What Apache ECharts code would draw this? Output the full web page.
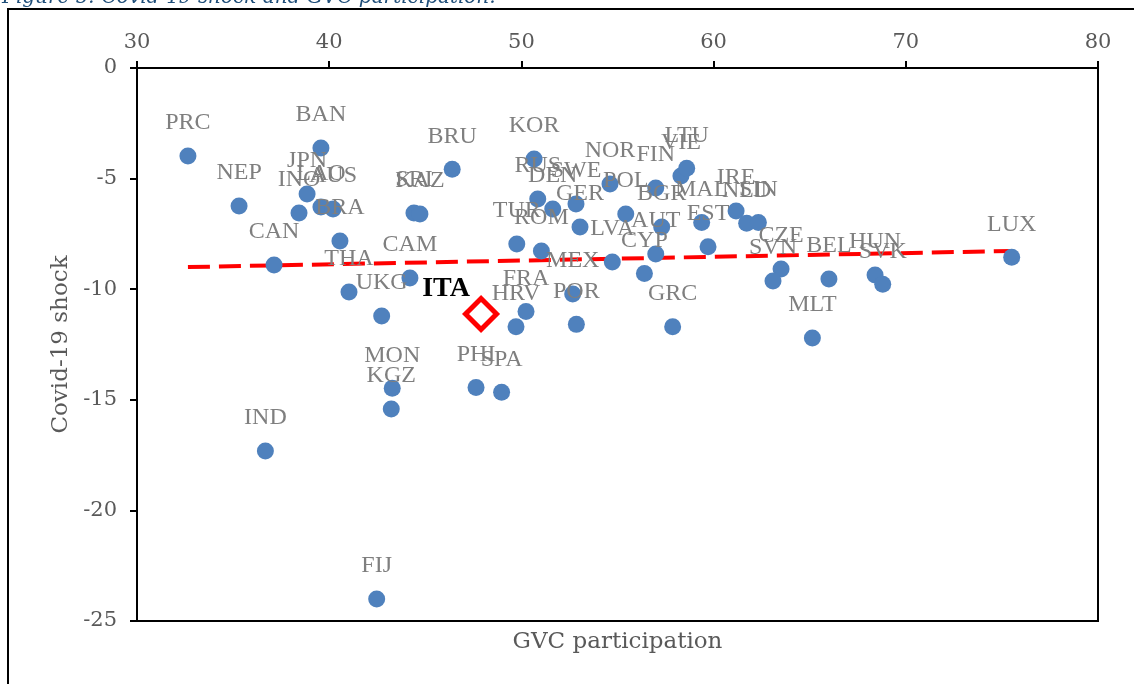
<!DOCTYPE html>
<html>
<head>
<meta charset="utf-8">
<script src="https://cdn.jsdelivr.net/npm/echarts@6/dist/echarts.min.js"></script>
<style>
  html, body { margin: 0; padding: 0; background: #fff; }
  #main { width: 1134px; height: 684px; }
</style>
</head>
<body>
<div id="main"></div>
<script>
// country codes, GVC participation (x) and Covid-19 shock (y)
const countries = ['PRC', 'NEP', 'BAN', 'JPN', 'INO', 'LAO', 'AUS', 'BRA', 'CAN', 'THA',
  'UKG', 'CAM', 'SRI', 'KAZ', 'BRU', 'KOR', 'RUS', 'DEN', 'SWE', 'GER',
  'NOR', 'POL', 'FIN', 'BGR', 'VIE', 'LTU', 'TUR', 'ROM', 'LVA', 'AUT',
  'CYP', 'MEX', 'FRA', 'HRV', 'POR', 'GRC', 'MAL', 'EST', 'IRE', 'NLD',
  'SIN', 'CZE', 'SVN', 'BEL', 'HUN', 'SVK', 'MLT', 'LUX', 'IND', 'FIJ',
  'MON', 'KGZ', 'PHI', 'SPA'];
const gvc = [32.65, 35.31, 39.57, 38.85, 38.43, 39.57, 40.20, 40.56, 37.13, 41.03,
  42.73, 44.20, 44.41, 44.72, 46.40, 50.66, 50.85, 51.63, 52.84, 53.05,
  54.61, 55.43, 56.99, 57.30, 58.30, 58.60, 49.76, 51.04, 54.73, 56.99,
  56.40, 52.67, 50.24, 49.72, 52.86, 57.87, 59.38, 59.71, 61.17, 61.72,
  62.33, 63.51, 63.09, 66.00, 68.40, 68.80, 65.14, 75.51, 36.68, 42.47,
  43.28, 43.23, 47.64, 48.97];
const shock = [-3.98, -6.24, -3.62, -5.70, -6.56, -6.28, -6.37, -7.82, -8.91, -10.13,
  -11.21, -9.49, -6.56, -6.60, -4.58, -4.11, -5.92, -6.37, -6.15, -7.19,
  -5.24, -6.60, -5.42, -7.19, -4.88, -4.53, -7.96, -8.27, -8.77, -8.41,
  -9.29, -10.22, -11.01, -11.70, -11.59, -11.70, -6.98, -8.08, -6.46, -7.02,
  -6.98, -9.09, -9.63, -9.54, -9.36, -9.78, -12.21, -8.56, -17.31, -24.01,
  -14.48, -15.42, -14.44, -14.66];

// Italy, highlighted
const itaName = 'ITA';
const itaGvc = 47.90;
const itaShock = -11.12;

// linear trend end points
const trendGvc = [32.65, 75.58];
const trendShock = [-9.00, -8.27];

const xMin = 30, xMax = 80, xStep = 10;
const yMin = -25, yMax = 0, yStep = 5;

let myChart = echarts.init(document.getElementById('main'));

let pointData = countries.map((c, i) => ({ name: c, value: [gvc[i], shock[i]] }));
let trendData = trendGvc.map((x, i) => [x, trendShock[i]]);

let axisFont = 'DejaVu Serif';

let option = {
  animation: false,
  graphic: [
    {
      type: 'rect',
      shape: { x: 8, y: 9, width: 1300, height: 800 },
      style: { fill: 'none', stroke: '#000', lineWidth: 2 },
      z: 0
    },
    {
      type: 'text',
      x: 2,
      y: 8,
      style: {
        text: 'Figure 5: Covid-19 shock and GVC participation.',
        fill: '#1F4E79',
        font: 'italic 20px "DejaVu Serif"',
        textVerticalAlign: 'bottom'
      }
    }
  ],
  grid: {
    left: 137,
    top: 68,
    width: 961,
    height: 553,
    show: true,
    borderColor: '#000',
    borderWidth: 2,
    backgroundColor: 'transparent'
  },
  xAxis: [
    {
      type: 'value',
      position: 'top',
      min: xMin,
      max: xMax,
      interval: xStep,
      axisLine: { show: true, lineStyle: { color: '#000', width: 2 } },
      axisTick: { show: true, length: 7, lineStyle: { color: '#000', width: 2 } },
      axisLabel: { color: '#595959', fontSize: 21, fontFamily: axisFont, margin: 15 },
      splitLine: { show: false }
    },
    {
      type: 'value',
      position: 'bottom',
      min: xMin,
      max: xMax,
      interval: xStep,
      axisLine: { show: false },
      axisTick: { show: false },
      axisLabel: { show: false },
      splitLine: { show: false },
      name: 'GVC participation',
      nameLocation: 'middle',
      nameGap: 10,
      nameTextStyle: { color: '#595959', fontSize: 23, fontFamily: axisFont }
    }
  ],
  yAxis: {
    type: 'value',
    min: yMin,
    max: yMax,
    interval: yStep,
    axisLine: { show: true, lineStyle: { color: '#000', width: 2 } },
    axisTick: { show: true, length: 7, lineStyle: { color: '#000', width: 2 } },
    axisLabel: { color: '#595959', fontSize: 21, fontFamily: axisFont, margin: 20 },
    splitLine: { show: false },
    name: 'Covid-19 shock',
    nameLocation: 'middle',
    nameGap: 64,
    nameTextStyle: { color: '#595959', fontSize: 23, fontFamily: axisFont }
  },
  series: [
    {
      type: 'scatter',
      data: pointData,
      symbolSize: 17,
      itemStyle: { color: '#4F81BD', opacity: 1 },
      label: {
        show: true,
        position: 'inside',
        offset: [0, -33],
        formatter: '{b}',
        color: '#7F7F7F',
        fontSize: 24,
        fontFamily: 'Liberation Serif'
      },
      z: 3
    },
    {
      type: 'line',
      data: trendData,
      symbol: 'none',
      lineStyle: { color: '#FF0000', width: 4, type: [22, 9] },
      z: 2
    },
    {
      type: 'scatter',
      data: [{ name: itaName, value: [itaGvc, itaShock] }],
      symbol: 'diamond',
      symbolSize: 31,
      itemStyle: { color: '#fff', borderColor: '#FF0000', borderWidth: 5, opacity: 1 },
      label: {
        show: true,
        position: 'inside',
        offset: [-35, -25],
        formatter: '{b}',
        color: '#000',
        fontSize: 28,
        fontWeight: 'bold',
        fontFamily: 'Liberation Serif'
      },
      z: 4
    }
  ]
};
myChart.setOption(option);
</script>
</body>
</html>
